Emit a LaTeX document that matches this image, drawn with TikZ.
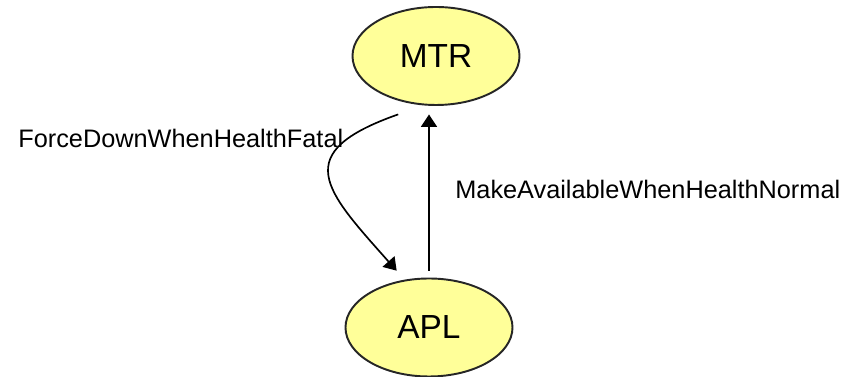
\documentclass[tikz,border=0pt]{standalone}
\usepackage{fontspec}
\setmainfont{Liberation Sans}
\usetikzlibrary{arrows.meta,positioning,shapes.geometric}
\definecolor{statefill}{RGB}{255,255,153}
\tikzset{
>={Triangle[length=7pt,width=9pt]},
  state/.style={
    ellipse,
    fill=statefill,
    draw=black!85, line width=1.1pt,
    minimum width=3.34cm,
    minimum height=1.96cm,
    inner sep=0pt,
    font=\fontsize{19}{23}\selectfont},
  line/.style={draw, line width=0.95pt, ->},
  trans/.style={inner sep=0pt, font=\fontsize{14.4}{17}\selectfont},
}

\begin{document}
\begin{tikzpicture}
  \useasboundingbox (0,0) rectangle (17.08,7.54);
     \node[state] (MTR) at (8.72,6.42) {MTR};
     \node[state] (APL) at (8.58,0.99) {APL};
  % the two transitions between the states
     \path[line, shorten <=0.14cm, shorten >=0.17cm]
       (APL.north) -- (APL.north |- MTR.south);
     \path[line, shorten <=0.54cm, shorten >=0.24cm]
       (MTR.256) .. controls +(-2.7,-0.95) and +(-1.6,1.8) .. (APL.117);
  %% labels of the transitions
     \node[trans, anchor=west] (ForceDown) at (0.36,4.78) {ForceDownWhenHealthFatal};
     \node[trans, anchor=west] (MakeAvailable) at (9.10,3.75) {MakeAvailableWhenHealthNormal};
\end{tikzpicture}
\end{document}
